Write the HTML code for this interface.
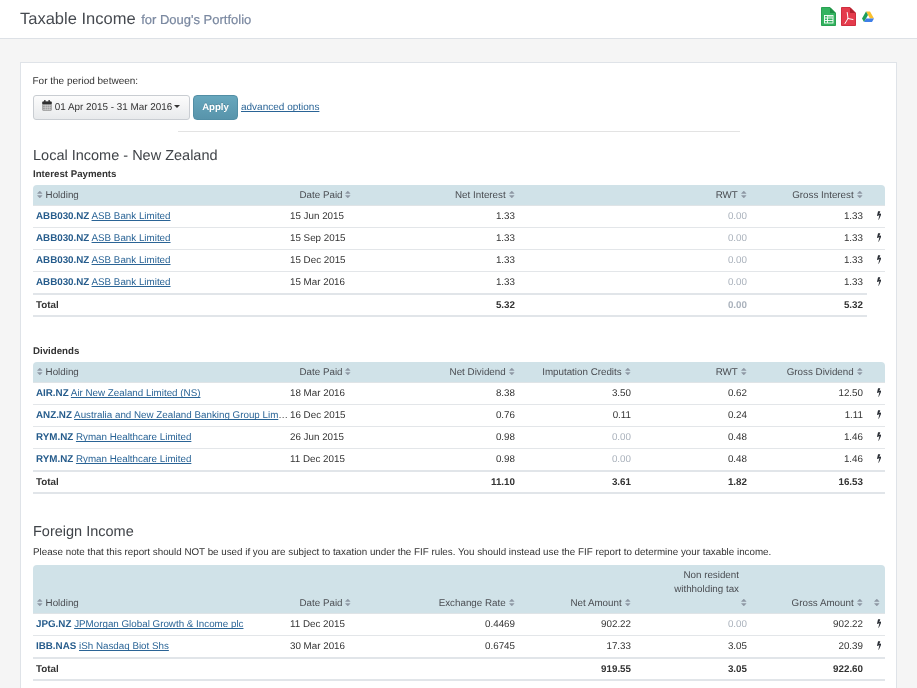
<!DOCTYPE html>
<html><head><meta charset="utf-8">
<style>
*{box-sizing:border-box}
html,body{margin:0;padding:0}
body{text-rendering:geometricPrecision;-webkit-text-stroke:0;will-change:transform;width:917px;height:688px;overflow:hidden;background:#f5f5f5;font-family:"Liberation Sans",Arial,sans-serif;font-size:10px;color:#333;position:relative}
#hdr{position:absolute;left:0;top:0;width:917px;height:39px;background:#fff;border-bottom:1px solid #dde1e6}
#title{-webkit-text-stroke:0;position:absolute;left:20px;top:9px;font-size:16.5px;color:#464a50;white-space:nowrap;line-height:20px}
#title small{-webkit-text-stroke:0.2px;font-size:13px;color:#7a88a0;margin-left:1px}
#icons{position:absolute;left:821px;top:7px}
#panel{position:absolute;left:20px;top:62px;width:877px;height:700px;background:#fff;border:1px solid #dfe3e8}
.abs{position:absolute;white-space:nowrap}
a{color:#2a6496;text-decoration-skip-ink:none}
#period{left:11.5px;top:11.5px;line-height:14px}
#datebtn{left:12px;top:32px;width:157px;height:25px;border:1px solid #c9cdd2;border-radius:3px;background:linear-gradient(#fcfcfc,#e8eaec);line-height:23px;padding-left:9px;font-size:9.9px;color:#333}
#apply{-webkit-text-stroke:0;left:172px;top:32px;width:45px;height:25px;border-radius:4px;background:linear-gradient(#67a7bd,#5894ab);color:#fff;font-weight:bold;line-height:23px;text-align:center;font-size:9.6px;border:1px solid #528ea5;text-shadow:0 -1px 0 rgba(0,0,0,.15)}
#adv{left:220px;top:32.5px;line-height:24px;font-size:10px}
#hr{left:157px;top:68px;width:562px;height:1px;background:#e3e3e3}
h3{-webkit-text-stroke:0;margin:0;font-weight:normal;font-size:14.5px;color:#404449;position:absolute;white-space:nowrap;left:12px;line-height:18px}
h5{-webkit-text-stroke:0;margin:0;font-size:9.7px;font-weight:bold;color:#333;position:absolute;left:12px;line-height:12px;white-space:nowrap}
table{position:absolute;left:12px;width:852px;border-collapse:separate;border-spacing:0;table-layout:fixed;font-size:10px}
th{background:#d0e2e8;font-weight:normal;color:#4a4d52;height:21px;font-size:9.8px;padding:0 4px;border-bottom:1px solid #dfe4e7;text-align:right;white-space:nowrap;vertical-align:middle}
td{height:22px;padding:0 4px 0 3px;font-size:9.8px;text-align:right;white-space:nowrap;border-top:1px solid #e3e6e9;vertical-align:middle;overflow:hidden;text-overflow:ellipsis}
tr.first td{border-top:none;height:21px}
td.l,th.l{text-align:left}
tfoot td{-webkit-text-stroke:0;border-top:2px solid #e1e5e9;border-bottom:2px solid #e1e5e9;font-weight:bold;height:24px}
.tk{font-weight:bold;color:#265c8c}
.nm{color:#2a6496;text-decoration:underline;text-decoration-skip-ink:none}
.z{color:#aab2bc}
.sort{display:inline-block;width:5.6px;height:7px;vertical-align:0;margin-left:1px}
tr.tall th{vertical-align:bottom;line-height:14px;padding-bottom:2px;height:49px}
th.l .sort{margin-left:0;margin-right:3px}
th:first-child{border-top-left-radius:4px}
th:last-child{border-top-right-radius:4px}
.bolt{display:inline-block;width:4.7px;height:9.5px;vertical-align:-0.5px}
td.b{text-align:left;padding:0 0 0 9.8px}
td.anz{text-overflow:clip;padding-right:0}
td.nob{border:none!important}
th.dp{padding-left:12.5px}
th.c{text-align:left;padding-left:6px}
</style></head><body>
<div id="hdr">
  <div id="title">Taxable Income <small>for Doug's Portfolio</small></div>
  <svg id="icons" width="56" height="20" viewBox="0 0 56 20">
    <path d="M0.5 0.5h8.5l5.5 5.5v12.5h-14z" fill="#33b35f" stroke="#2aa152" stroke-width="1"/>
    <path d="M9 0.5v5.5h5.5z" fill="#1f8f45"/>
    <g fill="none" stroke="#fff" stroke-width="0.9">
      <rect x="3.5" y="8.5" width="8.5" height="7.5"/>
      <path d="M3.5 11h8.5M3.5 13.5h8.5M6.5 8.5v7.5"/>
    </g>
    <rect x="6.7" y="9" width="5" height="2" fill="#9ad9ad"/>
    <path d="M20.5 0.5h8.5l5.5 5.5v12.5h-14z" fill="#e43b4c" stroke="#cf2e3f" stroke-width="1"/>
    <path d="M29 0.5v5.5h5.5z" fill="#b0202f"/>
    <path d="M26.2 5.5 27 11.5M27 11.5 32 12.5M27 11.5 24 16.5" stroke="#fff" stroke-width="1" fill="none" stroke-linecap="round"/>
    <g transform="translate(41,4.6)">
      <path d="M4 0h4l4 7h-4z" fill="#fbc02d"/>
      <path d="M4 0 0 7l2 3.4L6 3.5z" fill="#1e9e58"/>
      <path d="M2 10.4h8l2-3.4H4z" fill="#3f7fe8"/>
    </g>
  </svg>
</div>

<div id="panel">
  <div class="abs" id="period">For the period between:</div>
  <div class="abs" id="datebtn"><svg width="10" height="11" viewBox="0 0 10 11" style="vertical-align:-0.5px;margin-right:2.5px;margin-left:-0.7px"><rect x="0.3" y="1.6" width="9.4" height="9.2" rx="1" fill="#8f8f8f"/><rect x="0.3" y="1.6" width="9.4" height="2.6" rx="0.8" fill="#2f2f2f"/><rect x="2" y="0" width="1.6" height="2.6" rx="0.6" fill="#3a3a3a"/><rect x="6.4" y="0" width="1.6" height="2.6" rx="0.6" fill="#3a3a3a"/><g fill="#d8d8d8"><rect x="1" y="4.8" width="8" height="0.8"/><rect x="1" y="6.8" width="8" height="0.8"/><rect x="1" y="8.8" width="8" height="0.8"/><rect x="2.9" y="4.8" width="0.6" height="5.4"/><rect x="4.9" y="4.8" width="0.6" height="5.4"/><rect x="6.9" y="4.8" width="0.6" height="5.4"/></g></svg>01 Apr 2015 - 31 Mar 2016 <svg width="6" height="4" viewBox="0 0 6 4" style="vertical-align:1px;margin-left:-1.5px"><path d="M0 0h6L3 3z" fill="#333"/></svg></div>
  <div class="abs" id="apply">Apply</div>
  <div class="abs" id="adv"><a href="#">advanced options</a></div>
  <div class="abs" id="hr"></div>

  <h3 style="top:83.5px">Local Income - New Zealand</h3>
  <h5 style="top:105.5px">Interest Payments</h5>
  <table style="top:122px">
    <colgroup><col style="width:254px"><col style="width:116px"><col style="width:116px"><col style="width:116px"><col style="width:116px"><col style="width:116px"><col style="width:18px"></colgroup>
    <thead><tr><th class="l"><svg class="sort" viewBox="0 0 1024 1408"><path d="M1024 896q0 26-19 45l-448 448q-19 19-45 19t-45-19l-448-448q-19-19-19-45t19-45 45-19h896q26 0 45 19t19 45zm0-384q0 26-19 45t-45 19h-896q-26 0-45-19t-19-45 19-45l448-448q19-19 45-19t45 19l448 448q19 19 19 45z" fill="#8e98a4"/></svg>Holding</th><th class="l dp">Date Paid <svg class="sort" viewBox="0 0 1024 1408"><path d="M1024 896q0 26-19 45l-448 448q-19 19-45 19t-45-19l-448-448q-19-19-19-45t19-45 45-19h896q26 0 45 19t19 45zm0-384q0 26-19 45t-45 19h-896q-26 0-45-19t-19-45 19-45l448-448q19-19 45-19t45 19l448 448q19 19 19 45z" fill="#8e98a4"/></svg></th><th>Net Interest <svg class="sort" viewBox="0 0 1024 1408"><path d="M1024 896q0 26-19 45l-448 448q-19 19-45 19t-45-19l-448-448q-19-19-19-45t19-45 45-19h896q26 0 45 19t19 45zm0-384q0 26-19 45t-45 19h-896q-26 0-45-19t-19-45 19-45l448-448q19-19 45-19t45 19l448 448q19 19 19 45z" fill="#8e98a4"/></svg></th><th></th><th>RWT <svg class="sort" viewBox="0 0 1024 1408"><path d="M1024 896q0 26-19 45l-448 448q-19 19-45 19t-45-19l-448-448q-19-19-19-45t19-45 45-19h896q26 0 45 19t19 45zm0-384q0 26-19 45t-45 19h-896q-26 0-45-19t-19-45 19-45l448-448q19-19 45-19t45 19l448 448q19 19 19 45z" fill="#8e98a4"/></svg></th><th>Gross Interest <svg class="sort" viewBox="0 0 1024 1408"><path d="M1024 896q0 26-19 45l-448 448q-19 19-45 19t-45-19l-448-448q-19-19-19-45t19-45 45-19h896q26 0 45 19t19 45zm0-384q0 26-19 45t-45 19h-896q-26 0-45-19t-19-45 19-45l448-448q19-19 45-19t45 19l448 448q19 19 19 45z" fill="#8e98a4"/></svg></th><th></th></tr></thead>
    <tbody>
      <tr class="first"><td class="l"><span class="tk">ABB030.NZ</span> <span class="nm">ASB Bank Limited</span></td><td class="l">15 Jun 2015</td><td>1.33</td><td></td><td class="z">0.00</td><td>1.33</td><td class="b"><svg class="bolt" viewBox="0 224 896 1568"><path d="M885 566q18 20 7 44l-540 1157q-13 25-42 25-4 0-14-2-17-5-25.5-19t-4.5-30l197-808-406 101q-4 1-12 1-18 0-31-11-18-15-13-39l201-825q4-14 16-23t28-9h328q19 0 32 12.5t13 29.5q0 8-5 18l-171 463 396-98q8-2 12-2 19 0 34 15z" fill="#2b2f36"/></svg></td></tr>
      <tr><td class="l"><span class="tk">ABB030.NZ</span> <span class="nm">ASB Bank Limited</span></td><td class="l">15 Sep 2015</td><td>1.33</td><td></td><td class="z">0.00</td><td>1.33</td><td class="b"><svg class="bolt" viewBox="0 224 896 1568"><path d="M885 566q18 20 7 44l-540 1157q-13 25-42 25-4 0-14-2-17-5-25.5-19t-4.5-30l197-808-406 101q-4 1-12 1-18 0-31-11-18-15-13-39l201-825q4-14 16-23t28-9h328q19 0 32 12.5t13 29.5q0 8-5 18l-171 463 396-98q8-2 12-2 19 0 34 15z" fill="#2b2f36"/></svg></td></tr>
      <tr><td class="l"><span class="tk">ABB030.NZ</span> <span class="nm">ASB Bank Limited</span></td><td class="l">15 Dec 2015</td><td>1.33</td><td></td><td class="z">0.00</td><td>1.33</td><td class="b"><svg class="bolt" viewBox="0 224 896 1568"><path d="M885 566q18 20 7 44l-540 1157q-13 25-42 25-4 0-14-2-17-5-25.5-19t-4.5-30l197-808-406 101q-4 1-12 1-18 0-31-11-18-15-13-39l201-825q4-14 16-23t28-9h328q19 0 32 12.5t13 29.5q0 8-5 18l-171 463 396-98q8-2 12-2 19 0 34 15z" fill="#2b2f36"/></svg></td></tr>
      <tr><td class="l"><span class="tk">ABB030.NZ</span> <span class="nm">ASB Bank Limited</span></td><td class="l">15 Mar 2016</td><td>1.33</td><td></td><td class="z">0.00</td><td>1.33</td><td class="b"><svg class="bolt" viewBox="0 224 896 1568"><path d="M885 566q18 20 7 44l-540 1157q-13 25-42 25-4 0-14-2-17-5-25.5-19t-4.5-30l197-808-406 101q-4 1-12 1-18 0-31-11-18-15-13-39l201-825q4-14 16-23t28-9h328q19 0 32 12.5t13 29.5q0 8-5 18l-171 463 396-98q8-2 12-2 19 0 34 15z" fill="#2b2f36"/></svg></td></tr>
    </tbody>
    <tfoot><tr><td class="l">Total</td><td></td><td>5.32</td><td></td><td class="z">0.00</td><td>5.32</td><td class="nob"></td></tr></tfoot>
  </table>

  <h5 style="top:282.5px">Dividends</h5>
  <table style="top:299px">
    <colgroup><col style="width:254px"><col style="width:116px"><col style="width:116px"><col style="width:116px"><col style="width:116px"><col style="width:116px"><col style="width:18px"></colgroup>
    <thead><tr><th class="l"><svg class="sort" viewBox="0 0 1024 1408"><path d="M1024 896q0 26-19 45l-448 448q-19 19-45 19t-45-19l-448-448q-19-19-19-45t19-45 45-19h896q26 0 45 19t19 45zm0-384q0 26-19 45t-45 19h-896q-26 0-45-19t-19-45 19-45l448-448q19-19 45-19t45 19l448 448q19 19 19 45z" fill="#8e98a4"/></svg>Holding</th><th class="l dp">Date Paid <svg class="sort" viewBox="0 0 1024 1408"><path d="M1024 896q0 26-19 45l-448 448q-19 19-45 19t-45-19l-448-448q-19-19-19-45t19-45 45-19h896q26 0 45 19t19 45zm0-384q0 26-19 45t-45 19h-896q-26 0-45-19t-19-45 19-45l448-448q19-19 45-19t45 19l448 448q19 19 19 45z" fill="#8e98a4"/></svg></th><th>Net Dividend <svg class="sort" viewBox="0 0 1024 1408"><path d="M1024 896q0 26-19 45l-448 448q-19 19-45 19t-45-19l-448-448q-19-19-19-45t19-45 45-19h896q26 0 45 19t19 45zm0-384q0 26-19 45t-45 19h-896q-26 0-45-19t-19-45 19-45l448-448q19-19 45-19t45 19l448 448q19 19 19 45z" fill="#8e98a4"/></svg></th><th>Imputation Credits <svg class="sort" viewBox="0 0 1024 1408"><path d="M1024 896q0 26-19 45l-448 448q-19 19-45 19t-45-19l-448-448q-19-19-19-45t19-45 45-19h896q26 0 45 19t19 45zm0-384q0 26-19 45t-45 19h-896q-26 0-45-19t-19-45 19-45l448-448q19-19 45-19t45 19l448 448q19 19 19 45z" fill="#8e98a4"/></svg></th><th>RWT <svg class="sort" viewBox="0 0 1024 1408"><path d="M1024 896q0 26-19 45l-448 448q-19 19-45 19t-45-19l-448-448q-19-19-19-45t19-45 45-19h896q26 0 45 19t19 45zm0-384q0 26-19 45t-45 19h-896q-26 0-45-19t-19-45 19-45l448-448q19-19 45-19t45 19l448 448q19 19 19 45z" fill="#8e98a4"/></svg></th><th>Gross Dividend <svg class="sort" viewBox="0 0 1024 1408"><path d="M1024 896q0 26-19 45l-448 448q-19 19-45 19t-45-19l-448-448q-19-19-19-45t19-45 45-19h896q26 0 45 19t19 45zm0-384q0 26-19 45t-45 19h-896q-26 0-45-19t-19-45 19-45l448-448q19-19 45-19t45 19l448 448q19 19 19 45z" fill="#8e98a4"/></svg></th><th></th></tr></thead>
    <tbody>
      <tr class="first"><td class="l"><span class="tk">AIR.NZ</span> <span class="nm">Air New Zealand Limited (NS)</span></td><td class="l">18 Mar 2016</td><td>8.38</td><td>3.50</td><td>0.62</td><td>12.50</td><td class="b"><svg class="bolt" viewBox="0 224 896 1568"><path d="M885 566q18 20 7 44l-540 1157q-13 25-42 25-4 0-14-2-17-5-25.5-19t-4.5-30l197-808-406 101q-4 1-12 1-18 0-31-11-18-15-13-39l201-825q4-14 16-23t28-9h328q19 0 32 12.5t13 29.5q0 8-5 18l-171 463 396-98q8-2 12-2 19 0 34 15z" fill="#2b2f36"/></svg></td></tr>
      <tr><td class="l anz"><span class="tk">ANZ.NZ</span> <span class="nm">Australia and New Zealand Banking Group Lim</span><span style="color:#444">…</span></td><td class="l">16 Dec 2015</td><td>0.76</td><td>0.11</td><td>0.24</td><td>1.11</td><td class="b"><svg class="bolt" viewBox="0 224 896 1568"><path d="M885 566q18 20 7 44l-540 1157q-13 25-42 25-4 0-14-2-17-5-25.5-19t-4.5-30l197-808-406 101q-4 1-12 1-18 0-31-11-18-15-13-39l201-825q4-14 16-23t28-9h328q19 0 32 12.5t13 29.5q0 8-5 18l-171 463 396-98q8-2 12-2 19 0 34 15z" fill="#2b2f36"/></svg></td></tr>
      <tr><td class="l"><span class="tk">RYM.NZ</span> <span class="nm">Ryman Healthcare Limited</span></td><td class="l">26 Jun 2015</td><td>0.98</td><td class="z">0.00</td><td>0.48</td><td>1.46</td><td class="b"><svg class="bolt" viewBox="0 224 896 1568"><path d="M885 566q18 20 7 44l-540 1157q-13 25-42 25-4 0-14-2-17-5-25.5-19t-4.5-30l197-808-406 101q-4 1-12 1-18 0-31-11-18-15-13-39l201-825q4-14 16-23t28-9h328q19 0 32 12.5t13 29.5q0 8-5 18l-171 463 396-98q8-2 12-2 19 0 34 15z" fill="#2b2f36"/></svg></td></tr>
      <tr><td class="l"><span class="tk">RYM.NZ</span> <span class="nm">Ryman Healthcare Limited</span></td><td class="l">11 Dec 2015</td><td>0.98</td><td class="z">0.00</td><td>0.48</td><td>1.46</td><td class="b"><svg class="bolt" viewBox="0 224 896 1568"><path d="M885 566q18 20 7 44l-540 1157q-13 25-42 25-4 0-14-2-17-5-25.5-19t-4.5-30l197-808-406 101q-4 1-12 1-18 0-31-11-18-15-13-39l201-825q4-14 16-23t28-9h328q19 0 32 12.5t13 29.5q0 8-5 18l-171 463 396-98q8-2 12-2 19 0 34 15z" fill="#2b2f36"/></svg></td></tr>
    </tbody>
    <tfoot><tr><td class="l">Total</td><td></td><td>11.10</td><td>3.61</td><td>1.82</td><td>16.53</td><td></td></tr></tfoot>
  </table>

  <h3 style="top:460px">Foreign Income</h3>
  <div class="abs" style="left:12px;top:483.5px;font-size:9.8px;line-height:12px">Please note that this report should NOT be used if you are subject to taxation under the FIF rules. You should instead use the FIF report to determine your taxable income.</div>
  <table style="top:502px">
    <colgroup><col style="width:254px"><col style="width:116px"><col style="width:116px"><col style="width:116px"><col style="width:116px"><col style="width:116px"><col style="width:18px"></colgroup>
    <thead><tr class="tall"><th class="l"><svg class="sort" viewBox="0 0 1024 1408"><path d="M1024 896q0 26-19 45l-448 448q-19 19-45 19t-45-19l-448-448q-19-19-19-45t19-45 45-19h896q26 0 45 19t19 45zm0-384q0 26-19 45t-45 19h-896q-26 0-45-19t-19-45 19-45l448-448q19-19 45-19t45 19l448 448q19 19 19 45z" fill="#8e98a4"/></svg>Holding</th><th class="l dp">Date Paid <svg class="sort" viewBox="0 0 1024 1408"><path d="M1024 896q0 26-19 45l-448 448q-19 19-45 19t-45-19l-448-448q-19-19-19-45t19-45 45-19h896q26 0 45 19t19 45zm0-384q0 26-19 45t-45 19h-896q-26 0-45-19t-19-45 19-45l448-448q19-19 45-19t45 19l448 448q19 19 19 45z" fill="#8e98a4"/></svg></th><th>Exchange Rate <svg class="sort" viewBox="0 0 1024 1408"><path d="M1024 896q0 26-19 45l-448 448q-19 19-45 19t-45-19l-448-448q-19-19-19-45t19-45 45-19h896q26 0 45 19t19 45zm0-384q0 26-19 45t-45 19h-896q-26 0-45-19t-19-45 19-45l448-448q19-19 45-19t45 19l448 448q19 19 19 45z" fill="#8e98a4"/></svg></th><th>Net Amount <svg class="sort" viewBox="0 0 1024 1408"><path d="M1024 896q0 26-19 45l-448 448q-19 19-45 19t-45-19l-448-448q-19-19-19-45t19-45 45-19h896q26 0 45 19t19 45zm0-384q0 26-19 45t-45 19h-896q-26 0-45-19t-19-45 19-45l448-448q19-19 45-19t45 19l448 448q19 19 19 45z" fill="#8e98a4"/></svg></th><th class="nr"><span style="display:inline-block;text-align:right;margin-right:8px">Non resident<br>withholding tax</span><br><svg class="sort" viewBox="0 0 1024 1408"><path d="M1024 896q0 26-19 45l-448 448q-19 19-45 19t-45-19l-448-448q-19-19-19-45t19-45 45-19h896q26 0 45 19t19 45zm0-384q0 26-19 45t-45 19h-896q-26 0-45-19t-19-45 19-45l448-448q19-19 45-19t45 19l448 448q19 19 19 45z" fill="#8e98a4"/></svg></th><th>Gross Amount <svg class="sort" viewBox="0 0 1024 1408"><path d="M1024 896q0 26-19 45l-448 448q-19 19-45 19t-45-19l-448-448q-19-19-19-45t19-45 45-19h896q26 0 45 19t19 45zm0-384q0 26-19 45t-45 19h-896q-26 0-45-19t-19-45 19-45l448-448q19-19 45-19t45 19l448 448q19 19 19 45z" fill="#8e98a4"/></svg></th><th class="c"><svg class="sort" viewBox="0 0 1024 1408"><path d="M1024 896q0 26-19 45l-448 448q-19 19-45 19t-45-19l-448-448q-19-19-19-45t19-45 45-19h896q26 0 45 19t19 45zm0-384q0 26-19 45t-45 19h-896q-26 0-45-19t-19-45 19-45l448-448q19-19 45-19t45 19l448 448q19 19 19 45z" fill="#8e98a4"/></svg></th></tr></thead>
    <tbody>
      <tr class="first"><td class="l"><span class="tk">JPG.NZ</span> <span class="nm">JPMorgan Global Growth &amp; Income plc</span></td><td class="l">11 Dec 2015</td><td>0.4469</td><td>902.22</td><td class="z">0.00</td><td>902.22</td><td class="b"><svg class="bolt" viewBox="0 224 896 1568"><path d="M885 566q18 20 7 44l-540 1157q-13 25-42 25-4 0-14-2-17-5-25.5-19t-4.5-30l197-808-406 101q-4 1-12 1-18 0-31-11-18-15-13-39l201-825q4-14 16-23t28-9h328q19 0 32 12.5t13 29.5q0 8-5 18l-171 463 396-98q8-2 12-2 19 0 34 15z" fill="#2b2f36"/></svg></td></tr>
      <tr><td class="l"><span class="tk">IBB.NAS</span> <span class="nm">iSh Nasdaq Biot Shs</span></td><td class="l">30 Mar 2016</td><td>0.6745</td><td>17.33</td><td>3.05</td><td>20.39</td><td class="b"><svg class="bolt" viewBox="0 224 896 1568"><path d="M885 566q18 20 7 44l-540 1157q-13 25-42 25-4 0-14-2-17-5-25.5-19t-4.5-30l197-808-406 101q-4 1-12 1-18 0-31-11-18-15-13-39l201-825q4-14 16-23t28-9h328q19 0 32 12.5t13 29.5q0 8-5 18l-171 463 396-98q8-2 12-2 19 0 34 15z" fill="#2b2f36"/></svg></td></tr>
    </tbody>
    <tfoot><tr><td class="l">Total</td><td></td><td></td><td>919.55</td><td>3.05</td><td>922.60</td><td></td></tr></tfoot>
  </table>
</div>
</body></html>
